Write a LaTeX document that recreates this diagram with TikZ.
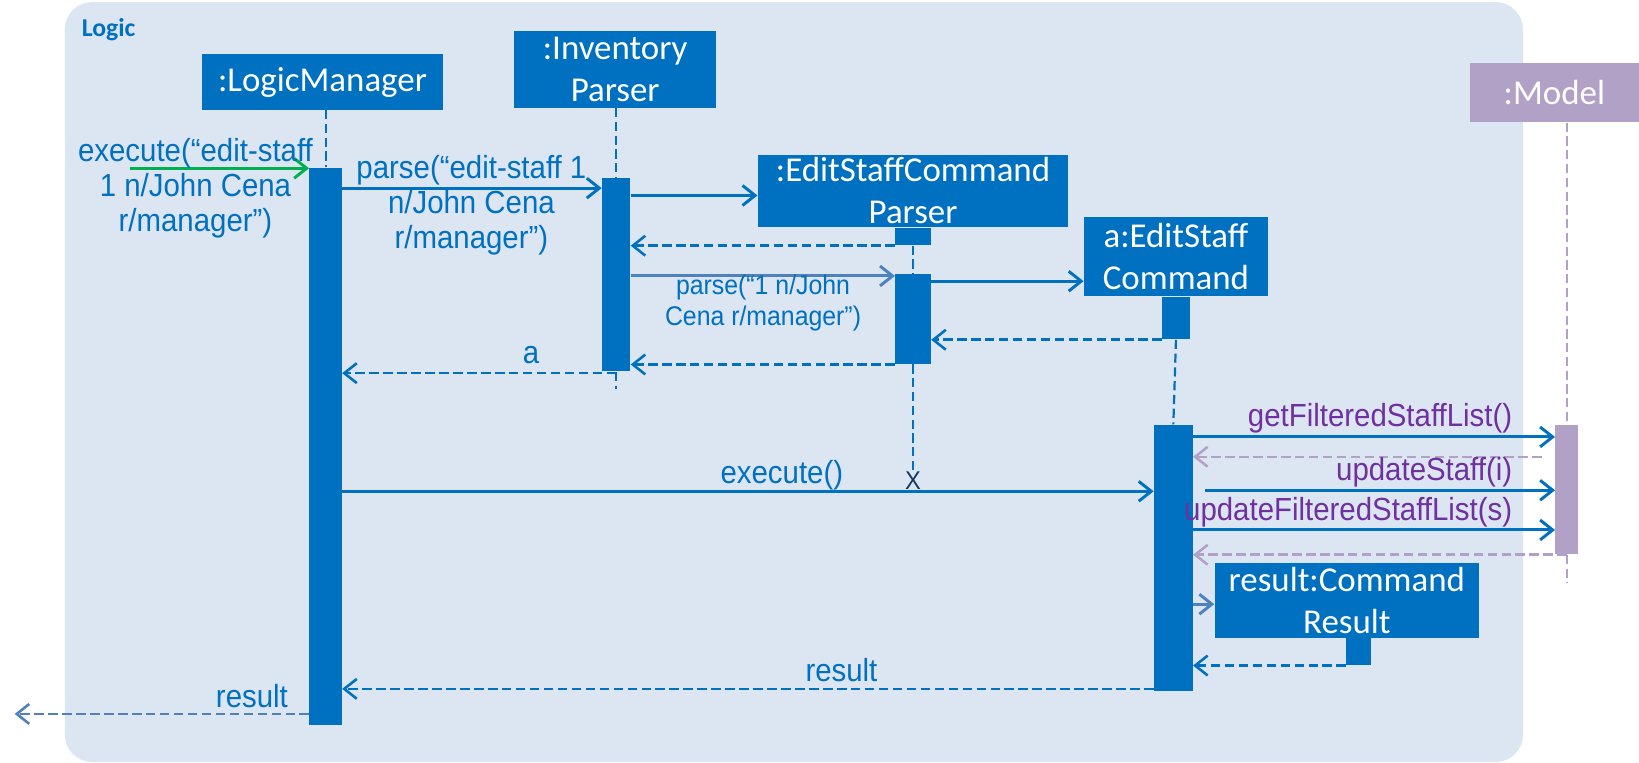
\documentclass[tikz,border=0pt]{standalone}
\usepackage{fontspec}
\setmainfont{Liberation Sans}[FakeStretch=0.92]
\newfontfamily\boxfont{Carlito}
\usepackage{tikz}
\usetikzlibrary{arrows.meta, positioning, calc}
\definecolor{uBlue}{HTML}{0070C0}
\definecolor{uLightBlue}{HTML}{4F81BD}
\definecolor{uFrame}{HTML}{DCE6F2}
\definecolor{uPurple}{HTML}{7030A0}
\definecolor{uModel}{HTML}{B2A1C7}
\definecolor{uGreen}{HTML}{00B050}
\definecolor{uNavy}{HTML}{17375E}

\begin{document}
\begin{tikzpicture}[
    obj/.style={rectangle, fill=uBlue, text=white, align=center, inner sep=0pt,
      font=\boxfont\fontsize{19}{23}\selectfont},
    actbar/.style={rectangle, fill=uBlue, inner sep=0pt, anchor=north},
    life/.style={uBlue, line width=1.2pt, dash pattern=on 5pt off 2.5pt},
    msg/.style={uBlue, line width=1.6pt, -{Straight Barb[length=2.4mm, width=3.8mm]}},
    ret/.style={uBlue, line width=1.4pt, dash pattern=on 5.2pt off 2.4pt,
      -{Straight Barb[length=2.4mm, width=3.8mm]}},
    lbl/.style={uBlue, align=center, inner sep=0pt, font=\fontsize{17.4}{19}\selectfont},
  ]
  \useasboundingbox (0,0) rectangle (31.36,-14.58);

  % Logic frame
  \fill[uFrame, rounded corners=0.52cm] (1.24,-0.04) rectangle (29.14,-14.58);
  \node[anchor=west, uBlue, inner sep=0pt, font=\boxfont\bfseries\fontsize{14}{16}\selectfont] (logic) at (1.56,-0.56) {Logic};

  % Objects
  \node[obj, minimum width=4.62cm, minimum height=1.06cm] (lm) at (6.17,-1.57) {:LogicManager};
  \node[obj, minimum width=3.86cm, minimum height=1.46cm] (ip) at (11.77,-1.33) {:Inventory\\Parser};
  \node[obj, minimum width=5.94cm, minimum height=1.38cm] (escp) at (17.47,-3.65) {:EditStaffCommand\\Parser};
  \node[obj, minimum width=3.52cm, minimum height=1.5cm] (esc) at (22.5,-4.91) {a:EditStaff\\Command};
  \node[obj, fill=uModel, minimum width=3.24cm, minimum height=1.14cm] (model) at (29.74,-1.77) {:Model};
  \node[obj, minimum width=5.06cm, minimum height=1.42cm] (rcr) at (25.77,-11.49) {result:Command\\Result};

  % Activation bars
  \node[actbar, minimum width=0.62cm, minimum height=10.66cm] (lmbar) at (6.23,-3.2) {};
  \node[actbar, minimum width=0.54cm, minimum height=3.7cm] (ipbar) at (11.79,-3.4) {};
  \node[actbar, minimum width=0.68cm, minimum height=0.34cm] (escpstub) at (escp.south) {};
  \node[actbar, minimum width=0.68cm, minimum height=1.72cm] (escpbar) at (17.47,-5.24) {};
  \node[actbar, minimum width=0.52cm, minimum height=0.82cm] (escstub) at (esc.south) {};
  \node[actbar, minimum width=0.74cm, minimum height=5.1cm] (escbar) at (22.45,-8.12) {};
  \node[actbar, fill=uModel, minimum width=0.44cm, minimum height=2.48cm] (modelbar) at (29.98,-8.12) {};
  \node[actbar, minimum width=0.48cm, minimum height=0.52cm] (rcrstub) at (26.0,-12.2) {};
  \node[uNavy, inner sep=0pt, font=\fontsize{14}{16}\selectfont] (xmark) at (17.47,-9.2) {X};

  % Lifelines
  \coordinate (ipend) at (11.79,-7.44);
  \coordinate (modelend) at (29.98,-11.16);
  \draw[life] (lm.south -| lmbar.north) -- (lmbar.north);
  \draw[life] (ip.south -| ipbar.north) -- (ipbar.north);
  \draw[life] (ipbar.south) -- (ipend);
  \draw[life] (escpstub.south) -- (escpbar.north);
  \draw[life] (escpbar.south) -- (xmark.north);
  \draw[life] (escstub.south) -- (escbar.north);
  \draw[life, uModel] (model.south -| modelbar.north) -- (modelbar.north);
  \draw[life, uModel] (modelbar.south) -- (modelend);

  % Messages
  \coordinate (start) at (2.48,-3.22);
  \draw[msg, uGreen] (start) -- (start -| lmbar.west);
  \node[lbl] (execlbl) at (3.74,-3.6) {execute(“edit-staff\\1 n/John Cena\\r/manager”)};
  \draw[msg] (lmbar.east |- 0,-3.6) -- (ipbar.west |- 0,-3.6);
  \node[lbl] (parselbl) at (9.02,-3.92) {parse(“edit-staff 1\\n/John Cena\\r/manager”)};
  \draw[msg] (ipbar.east |- 0,-3.74) -- (escp.west |- 0,-3.74);
  \draw[ret] (escpstub.south west) -- (ipbar.east |- escpstub.south west);
  \draw[msg, uLightBlue] (ipbar.east |- 0,-5.28) -- (escpbar.west |- 0,-5.28);
  \node[lbl, font=\fontsize{14.7}{16.5}\selectfont] (parselbl2) at (14.6,-5.8) {parse(“1 n/John\\Cena r/manager”)};
  \draw[msg] (escpbar.east |- 0,-5.38) -- (esc.west |- 0,-5.38);
  \draw[ret] (escstub.south west) -- (escpbar.east |- escstub.south west);
  \draw[ret] (escpbar.south west) -- (ipbar.east |- escpbar.south west);
  \draw[ret] (ipbar.south |- 0,-7.14) -- (lmbar.east |- 0,-7.14);
  \node[lbl] (albl) at (10.16,-6.8) {a};
  \draw[msg] (lmbar.east |- 0,-9.4) -- (escbar.west |- 0,-9.4);
  \node[lbl] (execlbl2) at (14.96,-9.1) {execute()};

  % Calls to the model
  \coordinate (modelret) at (29.5,-8.74);
  \coordinate (updstart) at (23.06,-9.38);
  \draw[msg] (escbar.east |- 0,-8.36) -- (modelbar.west |- 0,-8.36);
  \node[lbl, uPurple, anchor=east] (getlbl) at (28.94,-8.0) {getFilteredStaffList()};
  \draw[ret, uModel] (modelret) -- (escbar.east |- modelret);
  \draw[msg] (updstart) -- (modelbar.west |- updstart);
  \node[lbl, uPurple, anchor=east] (updlbl) at (28.94,-9.04) {updateStaff(i)};
  \draw[msg] (escbar.east |- 0,-10.14) -- (modelbar.west |- 0,-10.14);
  \node[lbl, uPurple, anchor=east] (updlistlbl) at (28.94,-9.8) {updateFilteredStaffList(s)};
  \draw[ret, uModel] (modelbar.south) -- (escbar.east |- modelbar.south);

  % Result
  \draw[msg, uLightBlue] (escbar.east |- 0,-11.56) -- (rcr.west |- 0,-11.56);
  \draw[ret] (rcrstub.south west) -- (escbar.east |- rcrstub.south west);
  \draw[ret] (escbar.west |- 0,-13.18) -- (lmbar.east |- 0,-13.18);
  \node[lbl] (reslbl) at (16.1,-12.82) {result};
  \coordinate (out) at (0.28,-13.66);
  \draw[ret, uLightBlue] (lmbar.west |- out) -- (out);
  \node[lbl] (reslbl2) at (4.82,-13.32) {result};
\end{tikzpicture}
\end{document}
